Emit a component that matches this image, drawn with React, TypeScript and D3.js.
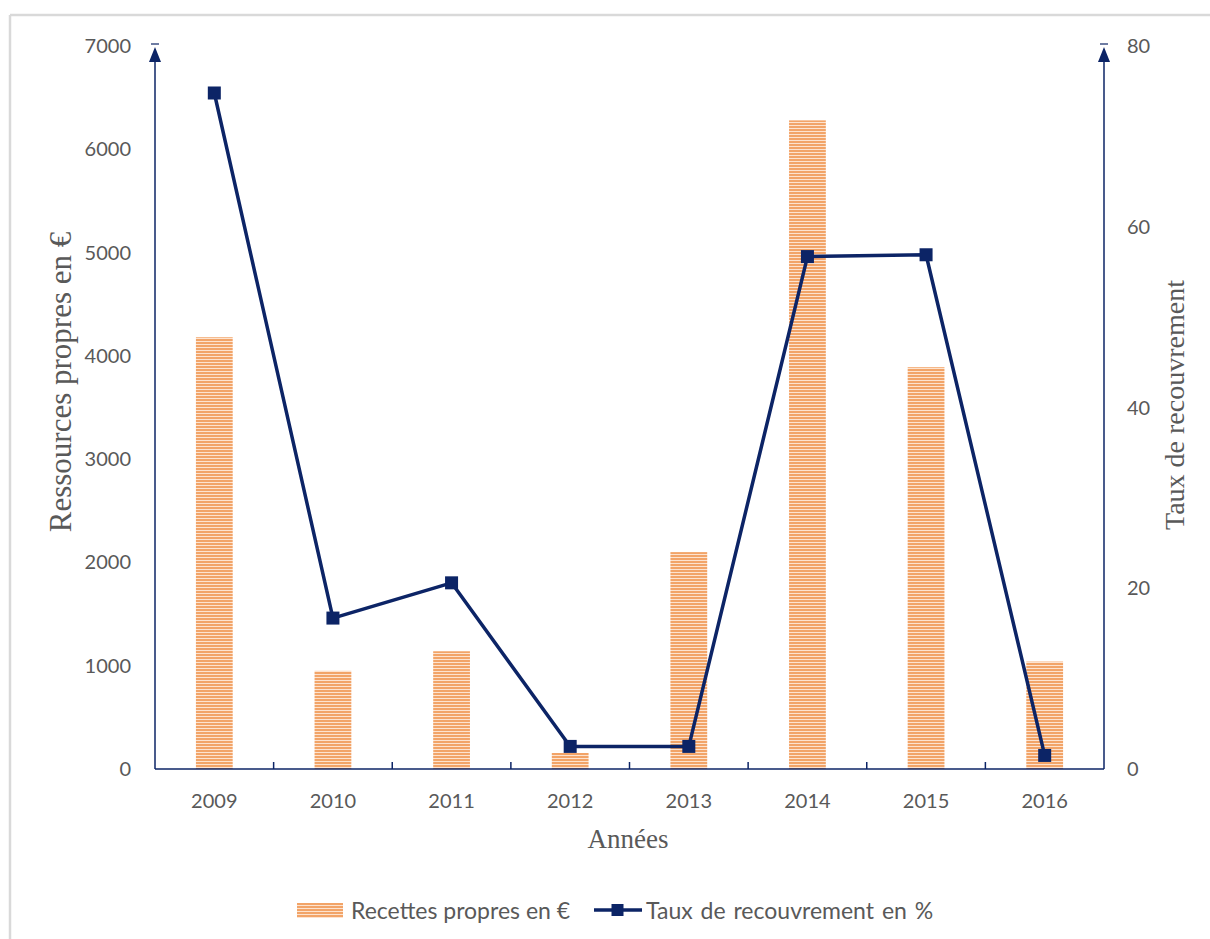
import * as d3 from 'd3';

const years = ['2009', '2010', '2011', '2012', '2013', '2014', '2015', '2016'];
const recettes = [4180, 950, 1140, 155, 2100, 6280, 3890, 1040];
const taux = [74.8, 16.7, 20.6, 2.5, 2.5, 56.7, 56.9, 1.5];
const leftTicks = [0, 1000, 2000, 3000, 4000, 5000, 6000, 7000];
const rightTicks = [0, 20, 40, 60, 80];

const W = 1210;
const H = 939;
const X0 = 155;
const X1 = 1104;
const Y0 = 769;
const Y1 = 46;

const NAVY = '#0c2466';
const GREY = '#595959';
const SANS = 'Lato, "Open Sans", sans-serif';
const SERIF = '"Liberation Serif", "DejaVu Serif", serif';

export default function App() {
	const x = d3.scaleBand().domain(years).range([X0, X1]);
	const yL = d3.scaleLinear().domain([0, 7000]).range([Y0, Y1]);
	const yR = d3.scaleLinear().domain([0, 80]).range([Y0, Y1]);
	const barW = x.bandwidth() * 0.31;

	const line = d3
		.line<number>()
		.x((_, i) => (x(years[i]) as number) + x.bandwidth() / 2)
		.y((d) => yR(d));

	// arrow heads at the top of both value axes
	const arrow = (ax: number) =>
		`M${ax},${Y1 + 1} L${ax - 6},${Y1 + 16} L${ax + 6},${Y1 + 16} Z`;

	return (
		<svg
			width={W}
			height={H}
			style={{ position: 'absolute', left: 0, top: 0, background: '#fff' }}
		>
			<defs>
				<pattern id="stripes" width="8" height="3" patternUnits="userSpaceOnUse">
					<rect width="8" height="3" fill="#fde3cf" />
					<rect width="8" height="2" fill="#f2a468" />
				</pattern>
			</defs>

			{/* frame */}
			<line x1={10} y1={15} x2={W} y2={15} stroke="#d9d9d9" strokeWidth={2.5} />
			<line x1={10} y1={15} x2={10} y2={H} stroke="#d9d9d9" strokeWidth={2.5} />

			{/* bars */}
			{recettes.map((v, i) => (
				<rect
					key={years[i]}
					x={(x(years[i]) as number) + (x.bandwidth() - barW) / 2}
					y={yL(v)}
					width={barW}
					height={Y0 - yL(v)}
					fill="url(#stripes)"
				/>
			))}

			{/* x axis */}
			<line x1={X0} y1={Y0} x2={X1} y2={Y0} stroke={NAVY} strokeWidth={1.5} />
			{years.slice(1).map((yr) => (
				<line
					key={yr}
					x1={x(yr) as number}
					x2={x(yr) as number}
					y1={Y0}
					y2={Y0 - 7}
					stroke={NAVY}
					strokeWidth={1.5}
				/>
			))}
			{years.map((yr) => (
				<text
					key={yr}
					x={(x(yr) as number) + x.bandwidth() / 2}
					y={808}
					textAnchor="middle"
					fontFamily={SANS}
					fontSize={20}
					fill={GREY}
				>
					{yr}
				</text>
			))}
			<text x={628} y={848} textAnchor="middle" fontFamily={SERIF} fontSize={27} fill={GREY}>
				Années
			</text>

			{/* left axis */}
			<line x1={X0} y1={Y0} x2={X0} y2={Y1 + 10} stroke={NAVY} strokeWidth={1.5} />
			<path d={arrow(X0)} fill={NAVY} />
			<line x1={X0 - 4} x2={X0 + 4} y1={Y1 - 2} y2={Y1 - 2} stroke={NAVY} strokeWidth={1.2} />
			{leftTicks.map((t) => (
				<text
					key={t}
					x={131}
					y={yL(t) + 7}
					textAnchor="end"
					fontFamily={SANS}
					fontSize={20}
					fill={GREY}
				>
					{t}
				</text>
			))}
			<text
				transform={`translate(71,382) rotate(-90)`}
				textAnchor="middle"
				fontFamily={SERIF}
				fontSize={31}
				fill={GREY}
			>
				Ressources propres en €
			</text>

			{/* right axis */}
			<line x1={X1} y1={Y0} x2={X1} y2={Y1 + 10} stroke={NAVY} strokeWidth={1.5} />
			<path d={arrow(X1)} fill={NAVY} />
			<line x1={X1 - 4} x2={X1 + 4} y1={Y1 - 2} y2={Y1 - 2} stroke={NAVY} strokeWidth={1.2} />
			{rightTicks.map((t) => (
				<text
					key={t}
					x={1127}
					y={yR(t) + 7}
					textAnchor="start"
					fontFamily={SANS}
					fontSize={20}
					fill={GREY}
				>
					{t}
				</text>
			))}
			<text
				transform={`translate(1184,405) rotate(-90)`}
				textAnchor="middle"
				fontFamily={SERIF}
				fontSize={28}
				fill={GREY}
			>
				Taux de recouvrement
			</text>

			{/* line series */}
			<path d={line(taux) as string} fill="none" stroke={NAVY} strokeWidth={3.5} strokeLinejoin="round" />
			{taux.map((v, i) => (
				<rect
					key={years[i]}
					x={(x(years[i]) as number) + x.bandwidth() / 2 - 6.5}
					y={yR(v) - 6.5}
					width={13}
					height={13}
					fill={NAVY}
				/>
			))}

			{/* legend */}
			<rect x={297} y={903} width={46} height={15} fill="url(#stripes)" />
			<text x={351} y={919} fontFamily={SANS} fontSize={23} fill={GREY}>
				Recettes propres en €
			</text>
			<line x1={594} x2={642} y1={910} y2={910} stroke={NAVY} strokeWidth={3.5} />
			<rect x={611.5} y={904} width={12} height={12} fill={NAVY} />
			<text x={646} y={919} fontFamily={SANS} fontSize={23} fill={GREY} wordSpacing={2}>
				Taux de recouvrement en %
			</text>
		</svg>
	);
}
